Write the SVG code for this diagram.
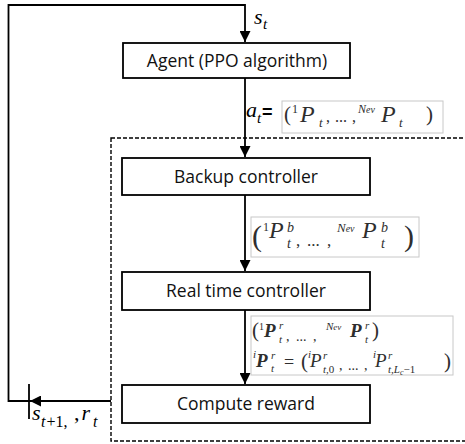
<svg xmlns="http://www.w3.org/2000/svg" width="465" height="444" viewBox="0 0 465 444">
  <defs>
    <marker id="arrow" viewBox="0 0 10 10" refX="10" refY="5" markerWidth="11" markerHeight="11" markerUnits="userSpaceOnUse" orient="auto">
      <path d="M0,0 L10,5 L0,10 Z" fill="#000"/>
    </marker>
    <style>
      .box { fill: #fff; stroke: #000; stroke-width: 1.8; }
      .lbl { font-family: "Open Sans", "Liberation Sans", sans-serif; font-size: 17.5px; fill: #111; text-anchor: middle; }
      .wire { fill: none; stroke: #000; stroke-width: 1.8; }
      .region { fill: none; stroke: #000; stroke-width: 1.4; stroke-dasharray: 4 2; }
      .fbox { fill: #fff; stroke: #c8c8c8; stroke-width: 1; }
      .m { font-family: "Liberation Serif", "DejaVu Serif", serif; font-style: italic; fill: #2e2e2e; }
      .mr { font-family: "Liberation Serif", "DejaVu Serif", serif; fill: #2e2e2e; }
      .mb { font-family: "Liberation Serif", "DejaVu Serif", serif; font-style: italic; font-weight: bold; fill: #2e2e2e; }
      .sym { font-family: "Liberation Serif", "DejaVu Serif", serif; font-style: italic; fill: #000; }
    </style>
  </defs>

  <!-- controller region (dashed) -->
  <rect class="region" x="111" y="138" width="380" height="303"/>

  <!-- connectors -->
  <g id="connectors">
    <polyline class="wire" points="111,401 8.5,401 8.5,5 245,5 245,42" marker-end="url(#arrow)"/>
    <line class="wire" x1="111" y1="401" x2="30" y2="401" marker-end="url(#arrow)"/>
    <line class="wire" x1="29" y1="384" x2="29" y2="419"/>
    <line class="wire" x1="245" y1="78" x2="245" y2="157" marker-end="url(#arrow)"/>
    <line class="wire" x1="245" y1="195" x2="245" y2="271" marker-end="url(#arrow)"/>
    <line class="wire" x1="245" y1="310" x2="245" y2="384" marker-end="url(#arrow)"/>
  </g>

  <!-- state label on the top feedback edge -->
  <g id="label-st">
    <text class="sym" x="254" y="24" font-size="22">s</text>
    <text class="sym" x="263" y="29" font-size="15">t</text>
  </g>

  <!-- next state / reward label -->
  <g id="label-st1">
    <text class="sym" x="32" y="420" font-size="22">s</text>
    <text class="sym" x="41" y="427" font-size="16"><tspan>t</tspan><tspan font-style="normal" dx="1">+1,</tspan></text>
    <text class="sym" x="74" y="420" font-size="22"><tspan font-style="normal">,</tspan><tspan dx="2">r</tspan></text>
    <text class="sym" x="93" y="427" font-size="16">t</text>
  </g>

  <!-- nodes -->
  <g id="agent">
    <rect class="box" x="123" y="43" width="227" height="35"/>
    <text class="lbl" x="237" y="67">Agent (PPO algorithm)</text>
  </g>

  <g id="backup">
    <rect class="box" x="122" y="158" width="248" height="37"/>
    <text class="lbl" x="246" y="183">Backup controller</text>
  </g>

  <g id="realtime">
    <rect class="box" x="122" y="272" width="248" height="38"/>
    <text class="lbl" x="246" y="297">Real time controller</text>
  </g>

  <g id="reward">
    <rect class="box" x="122" y="385" width="248" height="38"/>
    <text class="lbl" x="246" y="410">Compute reward</text>
  </g>

  <!-- action label: a_t = (1P_t, ..., NevP_t) -->
  <g id="label-action">
    <text class="sym" x="246" y="117" font-size="22">a</text>
    <text class="sym" x="257" y="123" font-size="15">t</text>
    <text x="262" y="118" font-family="Liberation Sans, sans-serif" font-size="18" font-weight="bold" fill="#000">=</text>
    <rect class="fbox" x="282" y="101" width="161" height="32"/>
    <text class="mr" x="284" y="121" font-size="21">(</text>
    <text class="mr" x="292" y="113" font-size="12">1</text>
    <text class="m" x="300" y="122" font-size="24">P</text>
    <text class="m" x="319" y="127" font-size="13">t</text>
    <text class="mr" x="326" y="122" font-size="16">,</text>
    <text class="mr" x="335" y="122" font-size="16">...</text>
    <text class="mr" x="352" y="122" font-size="16">,</text>
    <text class="m" x="358" y="113" font-size="12">N<tspan font-size="10">ev</tspan></text>
    <text class="m" x="381" y="122" font-size="24">P</text>
    <text class="m" x="399" y="127" font-size="13">t</text>
    <text class="mr" x="426" y="121" font-size="21">)</text>
  </g>

  <!-- backup controller output -->
  <g id="label-backup">
    <rect class="fbox" x="251" y="217" width="168" height="40"/>
    <text class="mr" x="252" y="246" font-size="30">(</text>
    <text class="mr" x="263" y="231" font-size="12">1</text>
    <text class="m" x="269" y="238" font-size="24">P</text>
    <text class="m" x="287" y="232" font-size="14">b</text>
    <text class="m" x="287" y="248" font-size="14">t</text>
    <text class="mr" x="296" y="246" font-size="17">,</text>
    <text class="mr" x="307" y="246" font-size="17">...</text>
    <text class="mr" x="327" y="246" font-size="17">,</text>
    <text class="m" x="337" y="232" font-size="13">N<tspan font-size="10">ev</tspan></text>
    <text class="m" x="362" y="238" font-size="24">P</text>
    <text class="m" x="381" y="232" font-size="14">b</text>
    <text class="m" x="381" y="248" font-size="14">t</text>
    <text class="mr" x="404" y="246" font-size="30">)</text>
  </g>

  <!-- real time controller output -->
  <g id="label-realtime">
    <rect class="fbox" x="251" y="316" width="202" height="59"/>
    <text class="mr" x="252" y="337" font-size="21">(</text>
    <text class="mr" x="259" y="330" font-size="10">1</text>
    <text class="mb" x="264" y="337" font-size="19">P</text>
    <text class="m" x="279" y="329" font-size="11">r</text>
    <text class="m" x="279" y="343" font-size="11">t</text>
    <text class="mr" x="286" y="341" font-size="14">,</text>
    <text class="mr" x="296" y="341" font-size="14">...</text>
    <text class="mr" x="313" y="341" font-size="14">,</text>
    <text class="m" x="326" y="330" font-size="11">N<tspan font-size="9">ev</tspan></text>
    <text class="mb" x="350" y="337" font-size="19">P</text>
    <text class="m" x="365" y="329" font-size="11">r</text>
    <text class="m" x="365" y="343" font-size="11">t</text>
    <text class="mr" x="372" y="337" font-size="21">)</text>

    <text class="m" x="253" y="358" font-size="11">i</text>
    <text class="mb" x="256" y="367" font-size="19">P</text>
    <text class="m" x="271" y="359" font-size="11">r</text>
    <text class="m" x="271" y="372" font-size="11">t</text>
    <text class="mr" x="284" y="368" font-size="18">=</text>
    <text class="mr" x="301" y="368" font-size="21">(</text>
    <text class="m" x="308" y="358" font-size="11">i</text>
    <text class="m" x="310" y="367" font-size="19">P</text>
    <text class="m" x="323" y="359" font-size="11">r</text>
    <text class="m" x="323" y="373" font-size="11">t,<tspan font-style="normal">0</tspan></text>
    <text class="mr" x="339" y="370" font-size="14">,</text>
    <text class="mr" x="348" y="370" font-size="14">...</text>
    <text class="mr" x="364" y="370" font-size="14">,</text>
    <text class="m" x="373" y="358" font-size="11">i</text>
    <text class="m" x="375" y="367" font-size="19">P</text>
    <text class="m" x="388" y="359" font-size="11">r</text>
    <text class="m" x="388" y="373" font-size="11">t,L<tspan font-size="8" dy="2">c</tspan><tspan font-style="normal" dy="-2">−1</tspan></text>
    <text class="mr" x="444" y="368" font-size="21">)</text>
  </g>
</svg>
